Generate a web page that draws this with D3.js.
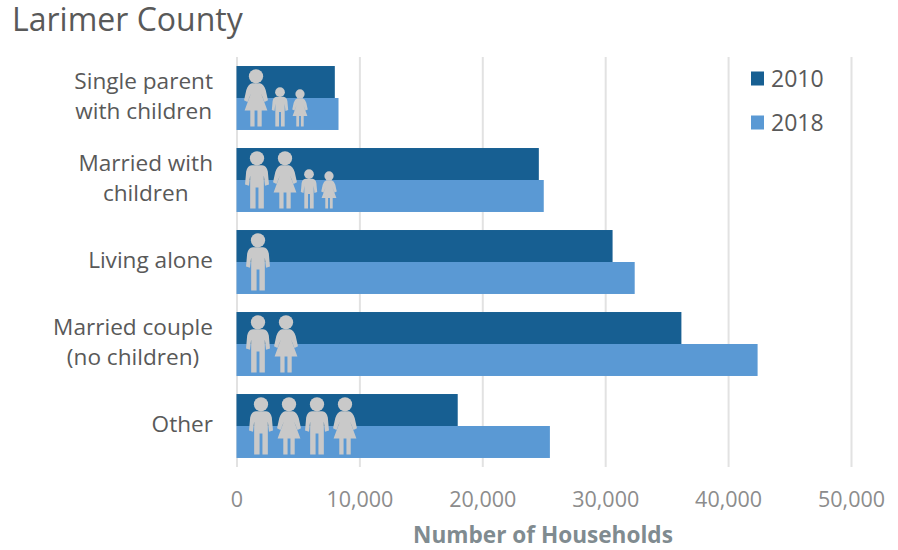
<!DOCTYPE html>
<html>
<head>
<meta charset="utf-8">
<script src="https://cdn.jsdelivr.net/npm/d3@7"></script>
<style>
  html, body { margin: 0; padding: 0; background: #fff; }
  svg { display: block; }
  text { font-family: "Open Sans", sans-serif; }
</style>
</head>
<body>
<div id="chart"></div>
<script>
// data
let categories = [["Single parent", "with children"], ["Married with", "children"], ["Living alone"], ["Married couple", "(no children)"], ["Other"]]
let households2010 = [8000, 24600, 30600, 36200, 18000]
let households2018 = [8300, 25000, 32400, 42400, 25500]
let members = [
  ["woman", "boy", "girl"],
  ["man", "woman", "boy", "girl"],
  ["man"],
  ["man", "woman"],
  ["man", "woman", "man", "woman"]
]
let years = ["2010", "2018"]
let xTicks = [0, 10000, 20000, 30000, 40000, 50000]

let width = 898, height = 550
let colors = { "2010": "#175f92", "2018": "#5a99d4" }
let iconColor = "#c9c9c9"

let svg = d3.select("#chart").append("svg")
  .attr("width", width)
  .attr("height", height)

let xScale = d3.scaleLinear().domain([0, 50000]).range([236.5, 851])
let yScale = d3.scaleBand().domain(d3.range(categories.length)).range([57, 467]).paddingInner(0.22).paddingOuter(0.11)
let barH = yScale.bandwidth() / 2

// title
svg.append("text")
  .attr("x", 12).attr("y", 31)
  .attr("font-size", 32)
  .attr("fill", "#595959")
  .text("Larimer County")

// gridlines and tick labels
let xAxis = d3.axisBottom(xScale).tickValues(xTicks).tickFormat(d3.format(",")).tickSize(-(467 - 57)).tickPadding(25)
let axisG = svg.append("g")
  .attr("transform", "translate(0,467)")
  .call(xAxis)
axisG.select(".domain").remove()
axisG.selectAll(".tick line").attr("stroke", "#e2e2e2").attr("stroke-width", 2)
axisG.selectAll(".tick text")
  .attr("font-size", 21.5)
  .attr("font-family", '"Open Sans", sans-serif')
  .attr("fill", "#8c8c8c")

svg.append("text")
  .attr("x", 543).attr("y", 543)
  .attr("text-anchor", "middle")
  .attr("font-size", 22.6)
  .attr("font-weight", "bold")
  .attr("fill", "#808b90")
  .text("Number of Households")

// bars
let barSeries = [households2010, households2018]
barSeries.forEach(function(values, s) {
  svg.append("g").selectAll("rect")
    .data(values)
    .enter()
    .append("rect")
    .attr("x", xScale(0))
    .attr("y", (d, i) => yScale(i) + s * barH)
    .attr("width", d => xScale(d) - xScale(0))
    .attr("height", barH)
    .attr("fill", colors[years[s]])
})

// category labels: lines centred on each other, block right aligned
categories.forEach(function(lines, i) {
  let g = svg.append("g")
  let cy = yScale(i) + barH
  let texts = g.selectAll("text")
    .data(lines)
    .enter()
    .append("text")
    .attr("font-size", 22.6)
    .attr("fill", "#595959")
    .attr("text-anchor", "middle")
    .attr("y", (d, k) => cy + 5.5 + (k - (lines.length - 1) / 2) * 30)
    .text(d => d)
  let w = d3.max(texts.nodes(), n => n.getComputedTextLength())
  texts.attr("x", 213 - w / 2)
})

// people icons, drawn in a box 100 units tall, centred on x = 0
let bodies = {
  man: "M-9,24 L9,24 Q17,25 19,35 L21,58 L14,60 L12,42 L12,100 L2.5,100 L2.5,63 L-2.5,63 L-2.5,100 L-12,100 L-12,42 L-14,60 L-21,58 L-19,35 Q-17,25 -9,24Z",
  woman: "M-7,24 L7,24 Q14,26 17,36 L21,54 L15,57 L9,42 L20,72 L10,72 L10,100 L2.5,100 L2.5,72 L-2.5,72 L-2.5,100 L-10,100 L-10,72 L-20,72 L-9,42 L-15,57 L-21,54 L-17,36 Q-14,26 -7,24Z"
}
bodies.boy = bodies.man
bodies.girl = bodies.woman
let iconSize = { man: 57, woman: 57, boy: 39, girl: 37 }
let iconStart = [256, 257, 258, 258, 261]

function gap(a, b) {
  let isChild = t => t == "boy" || t == "girl"
  if (isChild(a) && isChild(b)) return 20
  if (isChild(b)) return 24
  return 28
}

members.forEach(function(list, i) {
  let x = iconStart[i]
  let bottom = yScale(i) + yScale.bandwidth() - 3.5
  list.forEach(function(type, k) {
    if (k > 0) x += gap(list[k - 1], type)
    let s = iconSize[type] / 100
    let g = svg.append("g")
      .attr("transform", `translate(${x},${bottom - iconSize[type]}) scale(${s})`)
      .attr("fill", iconColor)
    g.append("circle").attr("cx", 0).attr("cy", 12).attr("r", 12.5)
    g.append("path").attr("d", bodies[type])
  })
})

// legend
let legendY = d3.scalePoint().domain(years).range([78.5, 122.5])
let legend = svg.append("g").selectAll("g")
  .data(years)
  .enter()
  .append("g")
  .attr("transform", d => `translate(751,${legendY(d)})`)
legend.append("rect")
  .attr("x", 0).attr("y", -7)
  .attr("width", 13).attr("height", 14)
  .attr("fill", d => colors[d])
legend.append("text")
  .attr("x", 20).attr("y", 8)
  .attr("font-size", 23)
  .attr("fill", "#595959")
  .text(d => d)
</script>
</body>
</html>
